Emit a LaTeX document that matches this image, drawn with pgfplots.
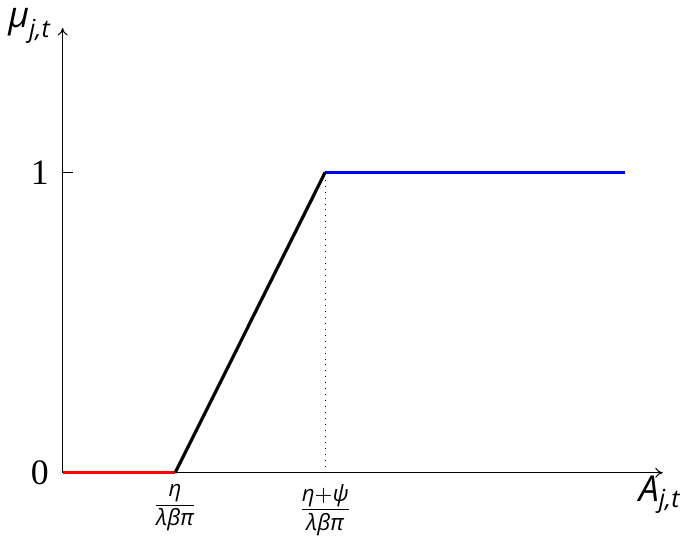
\documentclass[border=0pt]{standalone}
\usepackage{amsmath}
\usepackage{fontspec}
\setmainfont{Liberation Serif}
\newfontfamily\gsans{Open Sans}
\usepackage{pgfplots}
\usetikzlibrary{arrows.meta}
\pgfplotsset{compat=1.18}
\newcommand{\sv}[1]{\text{\gsans\itshape #1}}
\begin{document}
\begin{tikzpicture}
\begin{axis}[
  scale only axis,
  x=151pt, y=121pt,
  xmin=0, xmax=1.6, ymin=0, ymax=1.48,
  axis lines=left,
  axis line style={-{To[length=3pt,width=4pt]}, thin},
  xtick={0.3,0.7},
  xticklabels={$\dfrac{\sv{η}}{\sv{λβπ}}$, $\dfrac{\sv{η}{+}\sv{ψ}}{\sv{λβπ}}$},
  ytick={0,1},
  yticklabels={0,1},
  tick align=inside,
  tick label style={font=\Large},
  x tick label style={font=\small, yshift=-1pt},
  y tick label style={xshift=-2pt},
  major tick length=4pt,
  tick style={thin, black},
  x tick style={draw=none},
  xlabel={$\sv{A}_{\sv{j,t}}$},
  ylabel={$\sv{μ}_{\sv{j,t}}$},
  label style={font=\Large},
  xlabel style={at={(axis description cs:0.995,-0.05)}, anchor=center},
  ylabel style={at={(axis description cs:-0.055,1.005)}, anchor=center, rotate=-90},
  clip=false,
]
\addplot[red, line width=1.3pt] coordinates {(0,0) (0.3,0)};
\addplot[black, line width=1.3pt] coordinates {(0.3,0) (0.7,1)};
\addplot[blue, line width=1.3pt] coordinates {(0.7,1) (1.5,1)};
\addplot[black, dotted, thin] coordinates {(0.7,0) (0.7,1)};
\end{axis}
\end{tikzpicture}
\end{document}
